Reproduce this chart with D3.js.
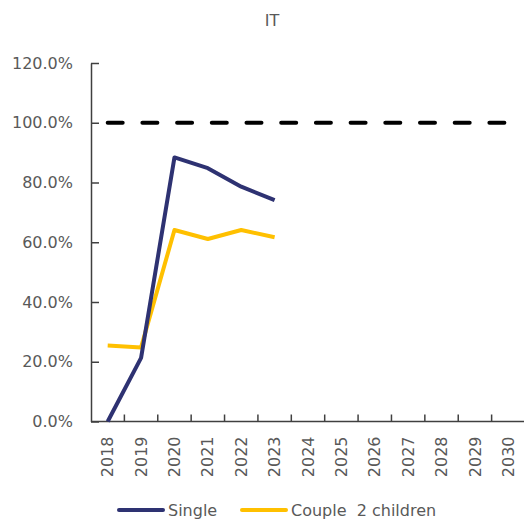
<!DOCTYPE html>
<html>
<head>
<meta charset="utf-8">
<script src="https://cdn.jsdelivr.net/npm/d3@7"></script>
<style>
  body { margin: 0; background: #fff; }
  text { font-family: "DejaVu Sans", sans-serif; }
</style>
</head>
<body>
<div id="chart"></div>
<script>
// data
const years = ["2018", "2019", "2020", "2021", "2022", "2023", "2024", "2025", "2026", "2027", "2028", "2029", "2030"];
const single = [0, 21.3, 88.4, 84.8, 78.6, 74.1];
const couple = [25.4, 24.8, 64.1, 61.1, 64.1, 61.7];
const target = [100, 100, 100, 100, 100, 100, 100, 100, 100, 100, 100, 100, 100];
const yTicks = [0, 20, 40, 60, 80, 100, 120];

const W = 524, H = 519;
const margin = { top: 63, right: 0, bottom: 98, left: 91 },
    width = W - margin.left - margin.right,
    height = H - margin.top - margin.bottom;

const svg = d3.select("#chart")
    .append("svg")
    .attr("width", W)
    .attr("height", H);

// title
svg.append("text")
    .attr("x", 272)
    .attr("y", 26)
    .attr("text-anchor", "middle")
    .attr("font-size", 16)
    .attr("fill", "#595959")
    .text("IT");

const g = svg.append("g")
    .attr("transform", `translate(${margin.left}, ${margin.top})`);

const x = d3.scaleBand()
    .domain(years)
    .range([0, 434]);

const y = d3.scaleLinear()
    .domain([0, 120])
    .range([height + 0.5, 0]);

// y axis, ticks pointing inward
const yAxis = g.append("g")
    .call(d3.axisLeft(y)
        .tickValues(yTicks)
        .tickSizeInner(-8)
        .tickSizeOuter(0)
        .tickPadding(18)
        .tickFormat(d => d.toFixed(1) + "%"));
yAxis.select(".domain").attr("stroke", "#404040").attr("stroke-width", 1.5);
yAxis.selectAll(".tick line").attr("stroke", "#404040").attr("stroke-width", 1.5);
yAxis.selectAll(".tick text")
    .attr("font-size", 16)
    .attr("font-family", "DejaVu Sans, sans-serif")
    .attr("fill", "#595959");

// x axis line + ticks at band boundaries
const base = y(0);
g.append("line")
    .attr("x1", 0).attr("x2", x.range()[1])
    .attr("y1", base).attr("y2", base)
    .attr("stroke", "#404040").attr("stroke-width", 1.5);
g.selectAll(".xtick")
    .data(years.slice(1).concat(["end"]))
    .enter()
    .append("line")
    .attr("x1", (d, i) => x(years[i]) + x.bandwidth())
    .attr("x2", (d, i) => x(years[i]) + x.bandwidth())
    .attr("y1", base)
    .attr("y2", base - 7)
    .attr("stroke", "#404040").attr("stroke-width", 1.5);

// rotated year labels
g.selectAll(".xlab")
    .data(years)
    .enter()
    .append("text")
    .attr("transform", d => `translate(${x(d) + x.bandwidth() / 2}, ${base + 15}) rotate(-90)`)
    .attr("text-anchor", "end")
    .attr("dy", "0.35em")
    .attr("font-size", 16)
    .attr("fill", "#595959")
    .text(d => d);

const cx = i => x(years[i]) + x.bandwidth() / 2;
const line = d3.line()
    .x((d, i) => cx(i))
    .y(d => y(d));

// 100% reference line
g.append("path")
    .datum(target)
    .attr("d", line)
    .attr("fill", "none")
    .attr("stroke", "#000")
    .attr("stroke-width", 4)
    .attr("stroke-linecap", "round")
    .attr("stroke-dasharray", "15,19.7");

g.append("path")
    .datum(couple)
    .attr("d", line)
    .attr("fill", "none")
    .attr("stroke", "#FFC000")
    .attr("stroke-width", 4)
    .attr("stroke-linejoin", "round");

g.append("path")
    .datum(single)
    .attr("d", line)
    .attr("fill", "none")
    .attr("stroke", "#2E3272")
    .attr("stroke-width", 4)
    .attr("stroke-linejoin", "round");

// legend
const legend = [
    { name: "Single", color: "#2E3272", x: 119 },
    { name: "Couple  2 children", color: "#FFC000", x: 242 }
];
const lg = svg.selectAll(".leg")
    .data(legend)
    .enter()
    .append("g")
    .attr("transform", d => `translate(${d.x}, 510)`);
lg.append("line")
    .attr("x1", 0).attr("x2", 44)
    .attr("stroke", d => d.color)
    .attr("stroke-width", 4)
    .attr("stroke-linecap", "round");
lg.append("text")
    .attr("x", 49)
    .attr("dy", "0.35em")
    .attr("font-size", 16)
    .attr("fill", "#595959")
    .style("white-space", "pre")
    .text(d => d.name);
</script>
</body>
</html>
